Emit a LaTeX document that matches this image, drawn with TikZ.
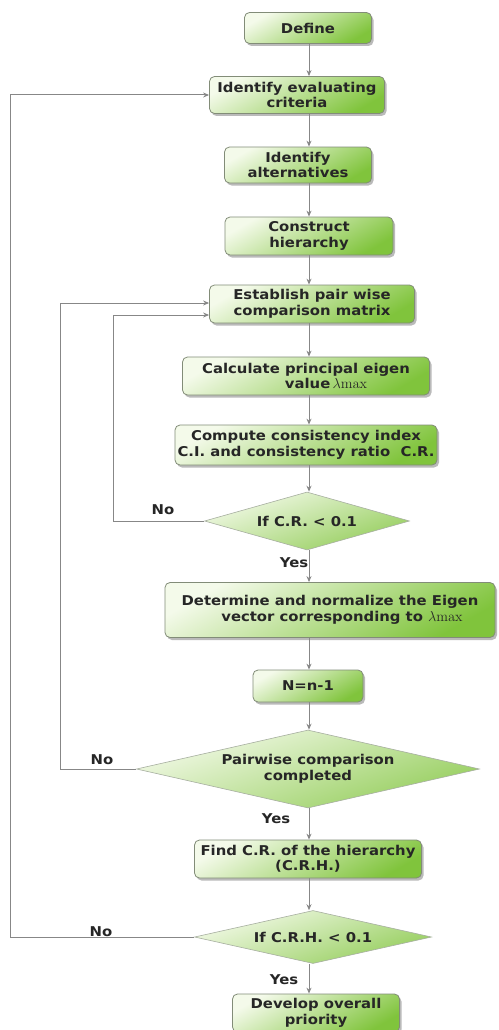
\documentclass[tikz,border=0pt]{standalone}
\usepackage[no-math]{fontspec}
\setmainfont{DejaVu Sans}[FakeStretch=1.1]
\usetikzlibrary{shapes.geometric,arrows.meta,shadows}
\definecolor{gpale}{RGB}{244,250,234}
\definecolor{gdeep}{RGB}{128,196,60}
\definecolor{edge}{RGB}{130,140,120}
\definecolor{wire}{RGB}{135,135,135}
\definecolor{ink}{RGB}{38,38,38}
\tikzset{
  base/.style={font=\fontsize{13.5}{15.5}\selectfont\bfseries, text=ink, align=center, inner sep=0pt},
  stepbox/.style={base, rectangle, rounded corners=5pt, draw=edge, line width=0.8pt,
    top color=gpale, bottom color=gdeep, shading angle=30,
    drop shadow={shadow xshift=2pt, shadow yshift=-2.5pt, opacity=0.45, fill=black!60}},
  decide/.style={base, diamond, aspect=4, draw=edge!70, line width=0.6pt,
    top color=gpale, bottom color=gdeep!85, shading angle=20},
  arr/.style={draw=wire, line width=1pt, -{Stealth[length=6pt,width=5pt]}},
  lbl/.style={font=\fontsize{13.5}{15.5}\selectfont\bfseries, text=ink, inner sep=0pt}
}
\newcommand{\lmax}{{\fontsize{15.5}{15.5}\selectfont$\lambda\mathrm{max}$}}
\begin{document}
\begin{tikzpicture}[x=1pt,y=-1pt]
\useasboundingbox (0,0) rectangle (498,1030);
\fill[white] (0,0) rectangle (498,1030);

% process steps
\node[stepbox, minimum width=127, minimum height=31] (define) at (308,28) {Define};
\node[stepbox, minimum width=175, minimum height=37] (crit) at (297,95) {Identify evaluating\\criteria};
\node[stepbox, minimum width=147, minimum height=36] (alt) at (298,165) {Identify\\alternatives};
\node[stepbox, minimum width=168, minimum height=38] (hier) at (309,236) {Construct\\hierarchy};
\node[stepbox, minimum width=205, minimum height=38] (pair) at (312,304) {Establish pair wise\\comparison matrix};
\node[stepbox, minimum width=247, minimum height=38] (eig) at (306,376) {Calculate principal eigen\\\hspace*{40pt}value\,\lmax};
\node[stepbox, minimum width=262, minimum height=40] (ci) at (306,445) {Compute consistency index\\C.I. and consistency ratio~~C.R.};
\node[decide, minimum width=205, minimum height=58] (d1) at (307,521) {If C.R. < 0.1};
\node[stepbox, minimum width=330, minimum height=55] (det) at (330,610) {Determine and normalize the Eigen\\\hspace*{24pt}vector corresponding to \lmax};
\node[stepbox, minimum width=110, minimum height=32] (nn) at (308,686) {N=n-1};
\node[decide, minimum width=343, minimum height=78] (d2) at (308,769) {Pairwise comparison\\completed};
\node[stepbox, minimum width=227, minimum height=38] (crh) at (308,859) {Find C.R. of the hierarchy\\(C.R.H.)};
\node[decide, minimum width=237, minimum height=53] (d3) at (313,937) {If C.R.H. < 0.1};
\node[stepbox, minimum width=167, minimum height=38] (dev) at (316,1013) {Develop overall\\priority};

% columns of the main flow and of the return loops
\coordinate (col) at (309,0);
\coordinate (loopA) at (10,0);
\coordinate (loopB) at (60,0);
\coordinate (loopC) at (113,0);

% main flow
\draw[arr] (define.south -| col) -- (crit.north -| col);
\draw[arr] (crit.south -| col) -- (alt.north -| col);
\draw[arr] (alt.south -| col) -- (hier.north -| col);
\draw[arr] (hier.south -| col) -- (pair.north -| col);
\draw[arr] (pair.south -| col) -- (eig.north -| col);
\draw[arr] (eig.south -| col) -- (ci.north -| col);
\draw[arr] (ci.south -| col) -- (d1.north -| col);
\draw[arr] (d1.south -| col) -- (det.north -| col);
\draw[arr] (det.south -| col) -- (nn.north -| col);
\draw[arr] (nn.south -| col) -- (d2.north -| col);
\draw[arr] (d2.south -| col) -- (crh.north -| col);
\draw[arr] (crh.south -| col) -- (d3.north -| col);
\draw[arr] (d3.south -| col) -- (dev.north -| col);

% return loops
\draw[arr] (d1.west) -- (d1.west -| loopC) |- ([yshift=-11pt]pair.west);
\draw[arr] (d2.west) -- (d2.west -| loopB) |- ([yshift=1pt]pair.west);
\draw[arr] (d3.west) -- (d3.west -| loopA) |- (crit.west);

% branch labels
\node[lbl] (no1) at (163,510) {No};
\node[lbl] (no2) at (102,760) {No};
\node[lbl] (no3) at (101,932) {No};
\node[lbl] (yes1) at (294,563) {Yes};
\node[lbl] (yes2) at (276,819) {Yes};
\node[lbl] (yes3) at (284,980) {Yes};
\end{tikzpicture}
\end{document}
